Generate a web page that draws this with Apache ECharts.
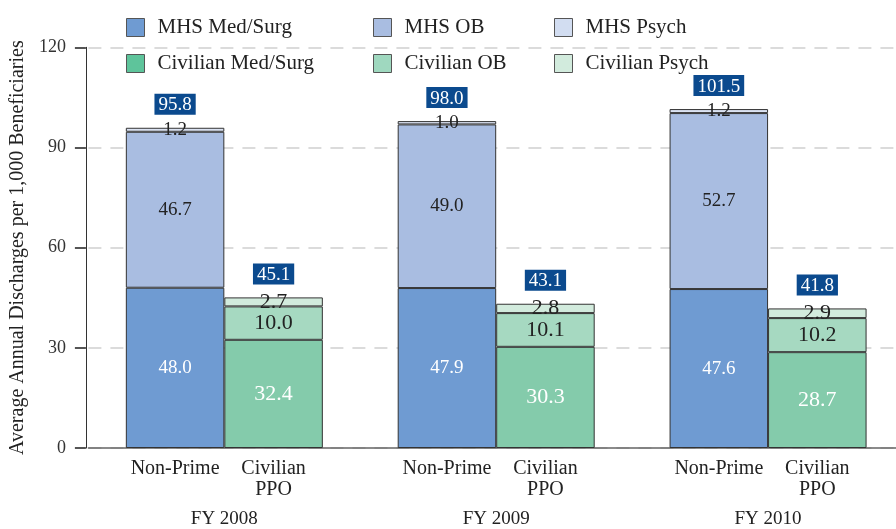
<!DOCTYPE html>
<html>
<head>
<meta charset="utf-8">
<script src="https://cdn.jsdelivr.net/npm/echarts@6/dist/echarts.min.js"></script>
<style>
html,body{margin:0;padding:0;background:#fff;overflow:hidden;width:896px;height:529px;}
#c{width:904px;height:529px;}
</style>
</head>
<body>
<div id="c"></div>
<script>
const years = ['FY 2008', 'FY 2009', 'FY 2010'];
const mhsMedSurg = [48.0, 47.9, 47.6];
const mhsOB = [46.7, 49.0, 52.7];
const mhsPsych = [1.2, 1.0, 1.2];
const mhsTotal = [95.8, 98.0, 101.5];
const civMedSurg = [32.4, 30.3, 28.7];
const civOB = [10.0, 10.1, 10.2];
const civPsych = [2.7, 2.8, 2.9];
const civTotal = [45.1, 43.1, 41.8];
const barNames = ['Non-Prime', 'Civilian\nPPO'];
const yTicks = [0, 30, 60, 90, 120];

const FONT = '"Liberation Serif", serif';
const fmt1 = v => Number(v).toFixed(1);
const zeros = years.map(() => 0);

function seg(name, stack, data, color, labelColor, fontSize) {
  return {
    name, type: 'bar', stack, data, barWidth: 98.5, barGap: '0%',
    itemStyle: { color, borderColor: '#333', borderWidth: 1 },
    label: { show: true, position: 'inside', color: labelColor, fontFamily: FONT, fontSize,
      formatter: p => fmt1(p.value) }
  };
}
function bottomLabel(stack, text) {
  return {
    name: '_b' + stack, type: 'bar', stack, data: zeros, barWidth: 98.5, barGap: '0%',
    itemStyle: { color: 'rgba(0,0,0,0)', borderWidth: 0 },
    label: { show: true, position: 'bottom', distance: 10, color: '#222', fontFamily: FONT,
      fontSize: 20, lineHeight: 21, align: 'center', formatter: () => text },
    silent: true
  };
}
function totalLabel(stack, totals) {
  return {
    name: '_t' + stack, type: 'bar', stack, data: zeros, barWidth: 98.5, barGap: '0%',
    itemStyle: { color: 'rgba(0,0,0,0)', borderWidth: 0 },
    label: { show: true, position: 'top', distance: 13, color: '#fff', fontFamily: FONT,
      fontSize: 19, backgroundColor: '#0b4a8e', padding: [2, 4, 0, 4],
      formatter: p => fmt1(totals[p.dataIndex]) },
    silent: true
  };
}

const chart = echarts.init(document.getElementById('c'));
const legendBase = {
  orient: 'vertical', top: 12, itemWidth: 18, itemHeight: 18, itemGap: 15,
  icon: 'rect',
  itemStyle: { borderColor: '#555', borderWidth: 1 },
  textStyle: { fontFamily: FONT, fontSize: 21, color: '#222', padding: [0, 0, 0, 8] },
  selectedMode: false
};
chart.setOption({
  animation: false,
  legend: [
    Object.assign({}, legendBase, { left: 121, data: ['MHS Med/Surg', { name: 'Civilian Med/Surg', itemStyle: { color: '#5ec49b' } }] }),
    Object.assign({}, legendBase, { left: 368, data: ['MHS OB', { name: 'Civilian OB', itemStyle: { color: '#9fd8bf' } }] }),
    Object.assign({}, legendBase, { left: 549, data: [{ name: 'MHS Psych', itemStyle: { color: '#d2ddf1' } }, 'Civilian Psych'] })
  ],
  grid: { left: 85.5, right: 0, top: 47.3, bottom: 79 },
  xAxis: {
    type: 'category', data: years,
    axisLine: { lineStyle: { color: '#666', width: 1.5 } },
    axisTick: { show: false },
    axisLabel: { margin: 62, color: '#222', fontFamily: FONT, fontSize: 19 }
  },
  yAxis: {
    type: 'value', min: yTicks[0], max: yTicks[yTicks.length - 1], interval: 30, offset: 2.5,
    name: 'Average Annual Discharges per 1,000 Beneficiaries',
    nameLocation: 'middle', nameGap: 45,
    nameTextStyle: { fontFamily: FONT, fontSize: 20, color: '#222' },
    axisLine: { show: true, lineStyle: { color: '#333', width: 1 } },
    axisTick: { show: true, length: 11, lineStyle: { color: '#555', width: 2 } },
    axisLabel: { margin: 20, color: '#333', fontFamily: FONT, fontSize: 18 },
    splitLine: { lineStyle: { color: '#d0d0d0', width: 1.5, type: [13, 9] } }
  },
  series: [
    bottomLabel('mhs', barNames[0]),
    seg('MHS Med/Surg', 'mhs', mhsMedSurg, '#6f9bd2', '#fff', 19),
    seg('MHS OB', 'mhs', mhsOB, '#a9bde1', '#222', 19),
    seg('MHS Psych', 'mhs', mhsPsych, '#dbe3f3', '#222', 19),
    totalLabel('mhs', mhsTotal),
    bottomLabel('civ', barNames[1]),
    seg('Civilian Med/Surg', 'civ', civMedSurg, '#84cbab', '#fff', 22),
    seg('Civilian OB', 'civ', civOB, '#a6d9c1', '#222', 22),
    seg('Civilian Psych', 'civ', civPsych, '#d2ebdd', '#222', 22),
    totalLabel('civ', civTotal)
  ]
});
</script>
</body>
</html>
